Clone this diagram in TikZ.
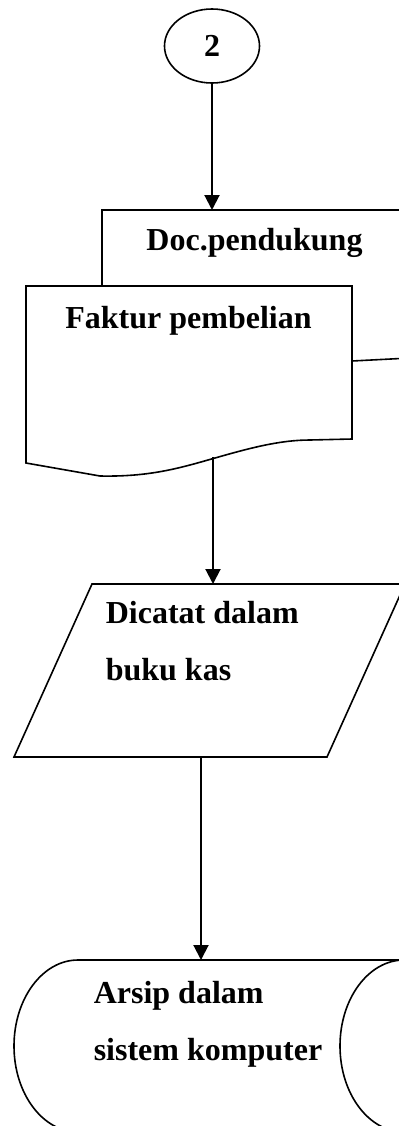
\documentclass[tikz,border=0pt]{standalone}
\usepackage{fontspec}
\setmainfont{Liberation Serif}
\usetikzlibrary{shapes.geometric,arrows.meta}

\begin{document}
\begin{tikzpicture}[x=0.5pt,y=-0.5pt,line width=0.8pt,
        lbl/.style={font=\fontsize{16}{16}\selectfont\bfseries,inner sep=0pt},
        flow/.style={line width=1pt,-{Triangle[length=7.5pt,width=7.5pt]}}]
    \useasboundingbox (0,0) rectangle (398,1126);
    % konektor halaman
    \node[draw,ellipse,lbl,minimum width=47.5pt,minimum height=37pt] (hub) at (212,46) {2};
    % dokumen pendukung (belakang)
    \draw (102,286) -- (102,210) -- (410,210);
    \draw (352,361) -- (410,358);
    \node[lbl,anchor=base] (docpend) at (254.5,250) {Doc.pendukung};
    \coordinate (dtop) at (212,210);
    % faktur pembelian (depan)
    \draw[fill=white] (26,286) -- (352,286) -- (352,439) -- (310,440)
        .. controls (280,440) and (250,448) .. (215,458)
        .. controls (180,468) and (150,477) .. (100,476) -- (26,463) -- cycle;
    \node[lbl,anchor=base] (faktur) at (188.5,328) {Faktur pembelian};
    \coordinate (fbot) at (213,457);
    % input / output
    \draw (92,584) -- (405,584) -- (327,757) -- (14,757) -- cycle;
    \coordinate (ptop) at (213,584);
    \coordinate (pbot) at (201,757);
    \node[lbl,anchor=base west] (catat1) at (105,623) {Dicatat dalam};
    \node[lbl,anchor=base west] (catat2) at (105,680) {buku kas};
    % penyimpanan data
    \draw (78,960) -- (404,960) arc[start angle=270,end angle=90,x radius=64,y radius=86]
        -- (78,1132) arc[start angle=90,end angle=270,x radius=64,y radius=86] -- cycle;
    \coordinate (atop) at (201,960);
    \node[lbl,anchor=base west] (arsip1) at (93,1003) {Arsip dalam};
    \node[lbl,anchor=base west] (arsip2) at (93,1060) {sistem komputer};
    % arus
    \draw[flow] (hub.south) -- (dtop);
    \draw[flow] (fbot) -- (ptop);
    \draw[flow] (pbot) -- (atop);
\end{tikzpicture}
\end{document}
